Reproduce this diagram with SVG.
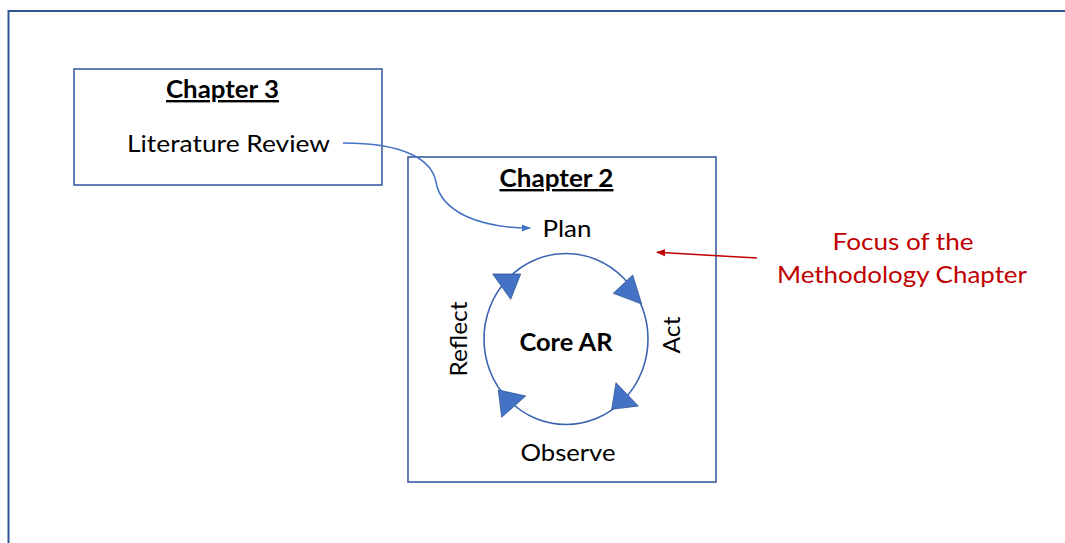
<svg xmlns="http://www.w3.org/2000/svg" width="1065" height="543" viewBox="0 0 1065 543">
<defs>
<style>
.box{fill:none;stroke:#3B5CA3;stroke-width:1.6}
.t{font-family:Lato,"Liberation Sans",sans-serif;font-size:24px;fill:#000}
.b{font-weight:bold}
.u{text-decoration:underline}
.red{fill:#C00000}
.tri{fill:#4472C4;stroke:#2F5597;stroke-width:0.8;stroke-linejoin:miter}
</style>
<marker id="ab" viewBox="0 0 10 10" refX="9" refY="5" markerWidth="9" markerHeight="9" markerUnits="userSpaceOnUse" orient="auto"><path d="M0,1 L10,5 L0,9 Z" fill="#4472C4"/></marker>
<marker id="ar" viewBox="0 0 10 10" refX="9" refY="5" markerWidth="9" markerHeight="9" markerUnits="userSpaceOnUse" orient="auto"><path d="M0,1 L10,5 L0,9 Z" fill="#C00000"/></marker>
</defs>
<rect width="1065" height="543" fill="#fff"/>
<path id="frame" d="M8.5,545 V11 H1068" fill="none" stroke="#2F5597" stroke-width="2"/>

<g id="chapter3">
<rect class="box" x="74" y="69" width="308" height="116"/>
<text class="t b u" x="222.5" y="98" text-anchor="middle" textLength="113" lengthAdjust="spacingAndGlyphs">Chapter 3</text>
<text class="t" x="228.5" y="152" text-anchor="middle" textLength="203" lengthAdjust="spacingAndGlyphs">Literature Review</text>
</g>

<g id="chapter2">
<rect class="box" x="408" y="157" width="308" height="325"/>
<text class="t b u" x="556.5" y="187" text-anchor="middle" textLength="114" lengthAdjust="spacingAndGlyphs">Chapter 2</text>
<text class="t" x="567" y="237" text-anchor="middle" textLength="49" lengthAdjust="spacingAndGlyphs">Plan</text>
<text class="t" x="568" y="461" text-anchor="middle" textLength="95" lengthAdjust="spacingAndGlyphs">Observe</text>
<text class="t" transform="translate(467,339) rotate(-90)" text-anchor="middle" textLength="75" lengthAdjust="spacingAndGlyphs">Reflect</text>
<text class="t" transform="translate(680,335) rotate(-90)" text-anchor="middle" textLength="37" lengthAdjust="spacingAndGlyphs">Act</text>
</g>

<g id="cycle">
<ellipse cx="566" cy="339" rx="82" ry="85.5" fill="none" stroke="#3B64B0" stroke-width="1.6"/>
<polygon class="tri" points="492.7,274 520.7,274 510.7,299.3"/>
<polygon class="tri" points="613.3,293.3 632.7,275 641.7,304"/>
<polygon class="tri" points="616,382.7 638.3,406 611.7,409.3"/>
<polygon class="tri" points="498.3,390 525.7,396 501.7,417.3"/>
<text class="t b" x="566" y="350.5" text-anchor="middle" textLength="93" lengthAdjust="spacingAndGlyphs">Core AR</text>
</g>

<g id="focus">
<text class="t red" x="903" y="250" text-anchor="middle" textLength="141" lengthAdjust="spacingAndGlyphs">Focus of the</text>
<text class="t red" x="902" y="283" text-anchor="middle" textLength="250" lengthAdjust="spacingAndGlyphs">Methodology Chapter</text>
</g>

<g id="connectors">
<path d="M343,143 C405,143 432,160 436,182 C441,212 480,228 530,228" fill="none" stroke="#4472C4" stroke-width="1.5" marker-end="url(#ab)"/>
<path d="M757,258 L657,252.3" fill="none" stroke="#C00000" stroke-width="1.5" marker-end="url(#ar)"/>
</g>
</svg>
